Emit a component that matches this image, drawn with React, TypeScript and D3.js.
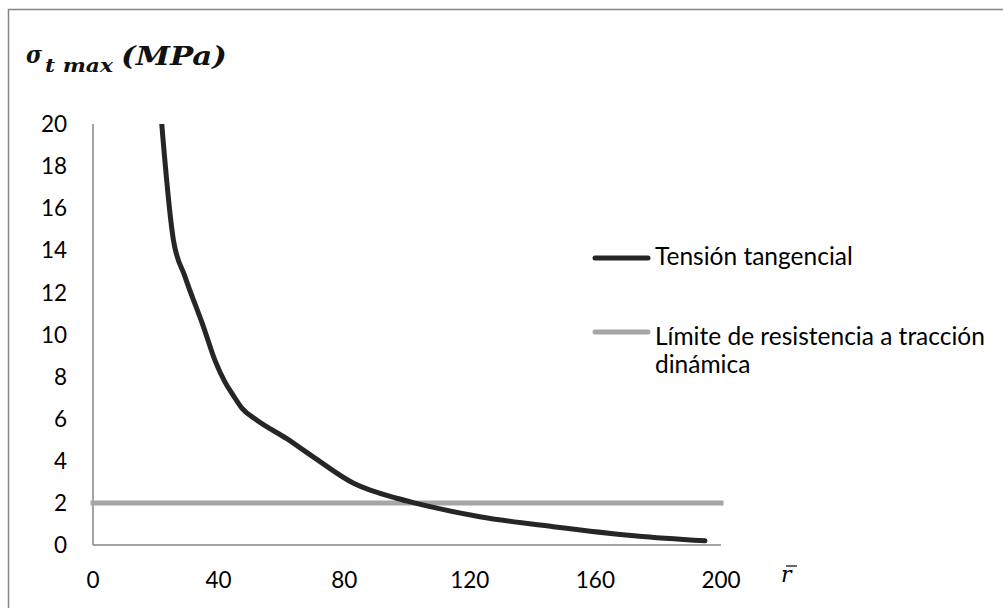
import React from "react";
import * as d3 from "d3";

const rValues = [20, 25.6, 29.3, 35.1, 38.9, 42, 44.7, 47.4, 52.1, 61.7, 70, 83, 96.7, 103, 123.2, 146.6, 173.1, 194.9];
const sigmaValues = [23.6, 14.5, 12.75, 10.4, 8.75, 7.75, 7.1, 6.5, 5.94, 5.05, 4.2, 2.93, 2.22, 1.98, 1.34, 0.87, 0.43, 0.2];
const limitR = [0, 200];
const limitValues = [2, 2];
const xTicks = [0, 40, 80, 120, 160, 200];
const yTicks = [0, 2, 4, 6, 8, 10, 12, 14, 16, 18, 20];
const seriesNames = ["Tensión tangencial", "Límite de resistencia a tracción", "dinámica"];

const W = 1003;
const H = 608;

export default function App() {
  const x = d3.scaleLinear().domain([0, 200]).range([93, 721]);
  const y = d3.scaleLinear().domain([0, 20]).range([545, 124]);

  const curve = rValues.map((r, i) => [r, sigmaValues[i]] as [number, number]);
  const limit = limitR.map((r, i) => [r, limitValues[i]] as [number, number]);
  const smooth = d3
    .line<[number, number]>()
    .x((d) => x(d[0]))
    .y((d) => y(d[1]))
    .curve(d3.curveMonotoneX);
  const straight = d3
    .line<[number, number]>()
    .x((d) => x(d[0]))
    .y((d) => y(d[1]));

  const axisColor = "#868686";
  const font = "Lato, 'Open Sans', sans-serif";
  const serif = "'DejaVu Serif', 'Liberation Serif', serif";

  return (
    <svg
      width={W}
      height={H}
      style={{ position: "absolute", left: 0, top: 0, background: "#fff" }}
    >
      <defs>
        <clipPath id="plotClip">
          <rect x={x(0) - 5} y={y(20)} width={x(200) - x(0) + 20} height={y(0) - y(20) + 10} />
        </clipPath>
      </defs>
      <rect x={0} y={0} width={W} height={H} fill="#fff" />
      {/* outer frame */}
      <rect x={8.5} y={9.5} width={1100} height={700} fill="none" stroke={axisColor} strokeWidth={1.5} />

      {/* title */}
      <text fontFamily={serif} fontWeight="bold" fontStyle="italic" fill="#111">
        <tspan x={26} y={63} fontSize={25} textLength={16} lengthAdjust="spacingAndGlyphs">σ</tspan>
        <tspan x={45} y={72} fontSize={18} textLength={68} lengthAdjust="spacingAndGlyphs">t max</tspan>
        <tspan x={121} y={65} fontSize={26} textLength={106} lengthAdjust="spacingAndGlyphs">(MPa)</tspan>
      </text>

      {/* axes */}
      <line x1={x(0)} x2={x(200)} y1={y(0)} y2={y(0)} stroke={axisColor} strokeWidth={1.5} />
      <line x1={x(0)} x2={x(0)} y1={y(0)} y2={y(20)} stroke={axisColor} strokeWidth={1.5} />

      {yTicks.map((t) => (
        <text
          key={"y" + t}
          x={67}
          y={y(t)}
          dy="0.36em"
          textAnchor="end"
          fontFamily={font}
          fontSize={22.5}
          fill="#000"
        >
          {t}
        </text>
      ))}
      {xTicks.map((t) => (
        <text
          key={"x" + t}
          x={x(t)}
          y={579.5}
          dy="0.36em"
          textAnchor="middle"
          fontFamily={font}
          fontSize={22.5}
          fill="#000"
        >
          {t}
        </text>
      ))}

      {/* r-bar label */}
      <text x={781} y={582} fontFamily={serif} fontStyle="italic" fontSize={22} fill="#000">
        r
      </text>
      <line x1={786} x2={797} y1={566} y2={566} stroke="#000" strokeWidth={1.2} />

      {/* limit line */}
      <path d={straight(limit) || ""} fill="none" stroke="#a6a6a6" strokeWidth={5} strokeLinecap="square" />

      {/* curve */}
      <g clipPath="url(#plotClip)">
        <path
          d={smooth(curve) || ""}
          fill="none"
          stroke="#262626"
          strokeWidth={5}
          strokeLinecap="round"
          strokeLinejoin="round"
        />
      </g>

      {/* legend */}
      <line x1={595} x2={648} y1={258} y2={258} stroke="#262626" strokeWidth={5} strokeLinecap="round" />
      <text x={655} y={265} fontFamily={font} fontSize={24.5} fill="#000">
        {seriesNames[0]}
      </text>
      <line x1={595} x2={648} y1={332} y2={332} stroke="#a6a6a6" strokeWidth={5} strokeLinecap="round" />
      <text x={655} y={345} fontFamily={font} fontSize={24.5} fill="#000">
        {seriesNames[1]}
      </text>
      <text x={655} y={373} fontFamily={font} fontSize={24.5} fill="#000">
        {seriesNames[2]}
      </text>
    </svg>
  );
}
